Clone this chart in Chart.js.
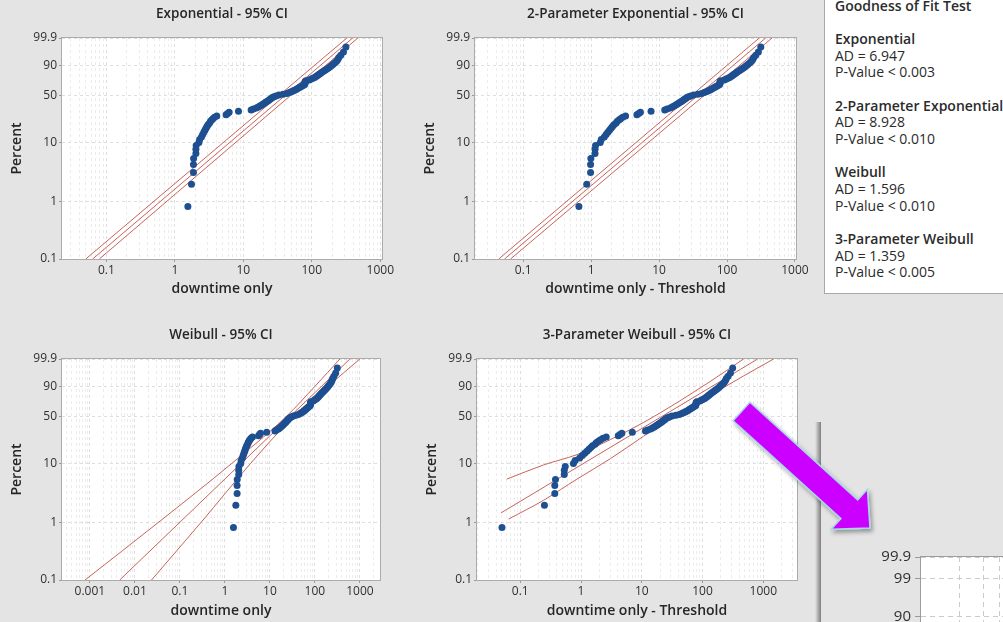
<!DOCTYPE html>
<html><head><meta charset="utf-8">
<script src="https://cdn.jsdelivr.net/npm/chart.js@4.4.1/dist/chart.umd.min.js"></script>
<style>
html,body{margin:0;padding:0;}
body{width:1003px;height:622px;overflow:hidden;position:relative;background:#e4e4e4;font-family:'Open Sans','Noto Sans',sans-serif;}
canvas{position:absolute;}
#gof{position:absolute;left:824px;top:-10px;width:190px;height:304px;background:#fff;border:1px solid #a8a8a8;box-sizing:border-box;}
#gofText{position:absolute;left:10px;top:6.7px;font-size:14px;line-height:16.67px;color:#2b2b2b;white-space:pre;}
#gofText .h{font-weight:600;}
#shadow{position:absolute;left:815px;top:422px;width:6px;height:210px;background:linear-gradient(to right,rgba(0,0,0,0),rgba(0,0,0,0.45));}
#arrow{position:absolute;left:0;top:0;width:1003px;height:622px;pointer-events:none;}
</style></head><body>
<canvas id="c1" width="408" height="300" style="left:0;top:0"></canvas>
<canvas id="c2" width="408" height="300" style="left:413px;top:0"></canvas>
<canvas id="c3" width="408" height="301" style="left:0;top:321px"></canvas>
<canvas id="c4" width="408" height="301" style="left:415px;top:321px"></canvas>
<div id="shadow"></div>
<canvas id="c5" width="500" height="700" style="left:820px;top:422px"></canvas>
<div id="gof"><div id="gofText"></div></div>
<svg id="arrow" viewBox="0 0 1003 622">
<defs><filter id="sh" x="-20%" y="-20%" width="140%" height="140%"><feDropShadow dx="2" dy="3" stdDeviation="2" flood-color="#000" flood-opacity="0.35"/></filter></defs>
<polygon filter="url(#sh)" points="749.9,402.2 857.7,499.9 867.4,489.2 870,528 831.2,529.2 840.9,518.5 733.1,420.8" fill="#cc00ff" stroke="#a6d8e6" stroke-width="1.5" stroke-linejoin="miter"/>
</svg>
<script>
// ---------- data ----------
// plotting-position percent of each ordered observation
const percentRank = [0.81,1.97,3.13,4.28,5.44,6.60,7.75,8.91,10.07,11.23,
 12.38,13.54,14.70,15.86,17.01,18.17,19.33,20.49,21.64,22.80,
 23.96,25.12,26.27,27.43,28.59,29.75,30.90,32.06,33.22,34.38,
 35.53,36.69,37.85,39.00,40.16,41.32,42.48,43.63,44.79,45.95,
 47.11,48.26,49.42,50.58,51.74,52.89,54.05,55.21,56.37,57.52,
 58.68,59.84,61.00,62.15,63.31,64.47,65.63,66.78,67.94,69.10,
 70.25,71.41,72.57,73.73,74.88,76.04,77.20,78.36,79.51,80.67,
 81.83,82.99,84.14,85.30,86.46,87.62,88.77,89.93,91.09,92.25,
 93.40,94.56,95.72,96.88,98.03,99.19];
// downtime only
const downtime = [1.55,1.75,1.87,1.87,1.88,2.03,2.03,2.05,2.25,2.3,
 2.45,2.55,2.65,2.75,2.85,2.95,3.05,3.2,3.3,3.45,
 3.6,3.8,4.1,5.6,5.9,6.2,8.5,13,14,15.5,
 16.5,17.5,18.5,19.5,20.5,21.5,22.5,23.5,24.5,25.5,
 26.5,28,30,33,38,43,47,50,53,56,
 59,62,65,68,71,74,78,79,80,80,
 80,82,92,98,104,110,115,120,125,130,
 136,142,150,158,166,175,185,195,205,218,
 230,240,248,265,290,315];
// downtime only - Threshold (2-parameter exponential)
const downtimeThr2 = [0.66,0.86,0.98,0.98,0.99,1.14,1.14,1.16,1.36,1.41,
 1.56,1.66,1.76,1.86,1.96,2.06,2.16,2.31,2.41,2.56,
 2.71,2.91,3.21,4.71,5.01,5.31,7.61,12.1,13.1,14.6,
 15.6,16.6,17.6,18.6,19.6,20.6,21.6,22.6,23.6,24.6,
 25.6,27.1,29.1,32.1,37.1,42.1,46.1,49.1,52.1,55.1,
 58.1,61.1,64.1,67.1,70.1,73.1,77.1,78.1,79.1,79.1,
 79.1,81.1,91.1,97.1,103.1,109.1,114.1,119.1,124.1,129.1,
 135.1,141.1,149.1,157.1,165.1,174.1,184.1,194.1,204.1,217.1,
 229.1,239.1,247.1,264.1,289.1,314.1];
// downtime only - Threshold (3-parameter Weibull)
const downtimeThr3 = [0.05,0.25,0.37,0.37,0.38,0.53,0.53,0.55,0.75,0.8,
 0.95,1.05,1.15,1.25,1.35,1.45,1.55,1.7,1.8,1.95,
 2.1,2.3,2.6,4.1,4.4,4.7,7,11.5,12.5,14,
 15,16,17,18,19,20,21,22,23,24,
 25,26.5,28.5,31.5,36.5,41.5,45.5,48.5,51.5,54.5,
 57.5,60.5,63.5,66.5,69.5,72.5,76.5,77.5,78.5,78.5,
 78.5,80.5,90.5,96.5,102.5,108.5,113.5,118.5,123.5,128.5,
 134.5,140.5,148.5,156.5,164.5,173.5,183.5,193.5,203.5,216.5,
 228.5,238.5,246.5,263.5,288.5,313.5];

// fitted lines and 95% CI bounds: [x, percent]
const expFit = [[0.063,0.1],[395,99.9]];
const expUpper = [[0.050,0.1],[325,99.9]];
const expLower = [[0.079,0.1],[470,99.9]];
const exp2Fit = [[0.053,0.1],[370,99.9]];
const exp2Upper = [[0.0435,0.1],[298,99.9]];
const exp2Lower = [[0.065,0.1],[460,99.9]];
const wblFit = [[0.0046,0.1],[600,99.9]];
const wblUpper = [[0.00078,0.1],[0.0335,1],[1.41,10],[23.2,50],[99.5,90],[360,99.9]];
const wblLower = [[0.0234,0.1],[0.296,1],[3.7,10],[33.8,50],[193,90],[1000,99.9]];
const wbl3Fit = [[0.048,1.45],[808,99.9]];
const wbl3Upper = [[0.060,5.5],[0.242,9.5],[0.857,14],[3.03,24],[10.7,42],[37.9,70],[134,94],[473,99.9]];
const wbl3Lower = [[0.0645,1.14],[0.242,2.4],[0.857,5.5],[3.03,12],[10.7,27],[37.9,52],[134,80],[473,97],[1480,99.9]];

// tick labels
const yTickPercents = [0.1,1,10,50,90,99.9];
const yTickLabels = ['0.1','1','10','50','90','99.9'];
const zoomYTickPercents = [0.1,1,10,50,90,99,99.9];
const zoomYTickLabels = ['0.1','1','10','50','90','99','99.9'];
const xTicksA = [0.1,1,10,100,1000];
const xLabelsA = ['0.1','1','10','100','1000'];
const xTicksW = [0.001,0.01,0.1,1,10,100,1000];
const xLabelsW = ['0.001','0.01','0.1','1','10','100','1000'];

// goodness of fit
const gofTests = ['Exponential','2-Parameter Exponential','Weibull','3-Parameter Weibull'];
const gofAD = ['6.947','8.928','1.596','1.359'];
const gofP = ['< 0.003','< 0.010','< 0.010','< 0.005'];

// ---------- rendering ----------
const T = p => Math.log(-Math.log(1 - p / 100)); // Weibull probability scale
const toPts = (xs, ps) => xs.map((x, i) => ({x: x, y: T(ps[i])}));
const pairPts = arr => arr.map(a => ({x: a[0], y: T(a[1])}));
const FONT = "'Open Sans','Noto Sans',sans-serif";
const BLUE = '#1d4f91';
const RED = 'rgba(196,92,82,0.95)';

const plotFrame = {
  id: 'plotFrame',
  beforeDraw(chart) {
    const a = chart.chartArea, ctx = chart.ctx;
    ctx.save(); ctx.fillStyle = '#ffffff';
    ctx.fillRect(a.left, a.top, a.right - a.left, a.bottom - a.top);
    ctx.restore();
  },
  afterDraw(chart, args, opts) {
    const a = chart.chartArea, ctx = chart.ctx;
    ctx.save(); ctx.strokeStyle = opts.color || '#aaa'; ctx.lineWidth = 1;
    ctx.strokeRect(Math.round(a.left) - 0.5, Math.round(a.top) - 0.5,
      Math.round(a.right - a.left) + 1, Math.round(a.bottom - a.top) + 1);
    ctx.restore();
  }
};

function labelFor(v, ticks, labels) {
  for (let i = 0; i < ticks.length; i++)
    if (Math.abs(Math.log10(v) - Math.log10(ticks[i])) < 1e-6) return labels[i];
  return '';
}
function isMajor(v, ticks) { return labelFor(v, ticks, ticks.map(() => 'y')) !== ''; }

function pointsSet(xs) {
  return {data: toPts(xs, percentRank), pointRadius: 3.5, pointHoverRadius: 3.5,
    backgroundColor: BLUE, borderColor: BLUE, borderWidth: 0, showLine: false};
}
function lineSet(arr, smooth) {
  return {data: pairPts(arr), showLine: true, pointRadius: 0, borderColor: RED,
    borderWidth: 1, fill: false, cubicInterpolationMode: smooth ? 'monotone' : 'default', tension: 0};
}

function makePlot(id, o) {
  const yFont = o.yFont || 12;
  const minorGrid = o.minorGrid || '#ececec';
  const majorGrid = o.gridColor || '#dedede';
  return new Chart(document.getElementById(id), {
    type: 'scatter',
    data: {datasets: o.datasets},
    plugins: [plotFrame],
    options: {
      responsive: false, animation: false, devicePixelRatio: 1,
      layout: {padding: o.padding},
      plugins: {
        legend: {display: false}, tooltip: {enabled: false},
        title: {display: !!o.title, text: o.title || '', fullSize: false, color: '#262626',
          font: {family: FONT, size: 13.5, weight: 600, lineHeight: 1.2}, padding: {top: 6, bottom: 15.8}},
        plotFrame: {color: o.frameColor || '#ababab'}
      },
      scales: {
        x: {
          type: 'logarithmic', position: 'bottom', min: o.xMin, max: o.xMax, bounds: 'data',
          afterBuildTicks(s) {
            const t = [];
            for (let d = Math.floor(Math.log10(o.xMin)); d <= Math.ceil(Math.log10(o.xMax)); d++)
              for (let m = 1; m <= 9; m++) {
                const v = m * Math.pow(10, d);
                if (v >= o.xMin && v <= o.xMax) t.push({value: v});
              }
            s.ticks = t;
          },
          afterFit(s) { s.height = o.xH; },
          ticks: {autoSkip: false, maxRotation: 0, minRotation: 0, padding: 1, color: '#303030',
            display: o.xLabels !== null,
            font: {family: FONT, size: 12}, callback: v => o.xLabels ? labelFor(v, o.xTicks, o.xLabels) : ''},
          grid: {lineWidth: 1, tickLength: 3,
            color: c => (c.tick && o.xTicks && isMajor(c.tick.value, o.xTicks)) ? majorGrid : minorGrid,
            tickColor: c => (c.tick && o.xTicks && isMajor(c.tick.value, o.xTicks)) ? '#9a9a9a' : 'rgba(0,0,0,0)'},
          border: {display: false, dash: o.dash || [3, 3]},
          title: {display: !!o.xTitle, text: o.xTitle || '', color: '#262626',
            font: {family: FONT, size: 14, weight: 600, lineHeight: 1.2}, padding: {top: 0, bottom: 2.6}}
        },
        y: {
          type: 'linear', min: T(0.1), max: T(99.9), bounds: 'data',
          afterBuildTicks(s) { s.ticks = o.yTicks.map(p => ({value: T(p)})); },
          afterFit(s) { s.width = o.yW; },
          ticks: {autoSkip: false, padding: o.yPad || 2, color: '#303030',
            font: {family: FONT, size: yFont}, callback: (v, i) => o.yLabels[i]},
          grid: {color: majorGrid, lineWidth: 1, tickLength: o.yTickLen || 3, tickColor: '#9a9a9a'},
          border: {display: false, dash: o.dash || [3, 3]},
          title: {display: !!o.yTitle, text: o.yTitle || '', color: '#262626',
            font: {family: FONT, size: 14, weight: 600, lineHeight: 1.2}, padding: {top: 8.6, bottom: 0}}
        }
      }
    }
  });
}

makePlot('c1', {
  title: 'Exponential - 95% CI', xTitle: 'downtime only', yTitle: 'Percent',
  padding: {left: 0, right: 26, top: 0, bottom: 0}, yW: 62, xH: 41,
  xMin: 0.0225, xMax: 1060, xTicks: xTicksA, xLabels: xLabelsA,
  yTicks: yTickPercents, yLabels: yTickLabels,
  datasets: [pointsSet(downtime), lineSet(expFit), lineSet(expUpper), lineSet(expLower)]
});
makePlot('c2', {
  title: '2-Parameter Exponential - 95% CI', xTitle: 'downtime only - Threshold', yTitle: 'Percent',
  padding: {left: 0, right: 25, top: 0, bottom: 0}, yW: 62, xH: 41,
  xMin: 0.0195, xMax: 1035, xTicks: xTicksA, xLabels: xLabelsA,
  yTicks: yTickPercents, yLabels: yTickLabels,
  datasets: [pointsSet(downtimeThr2), lineSet(exp2Fit), lineSet(exp2Upper), lineSet(exp2Lower)]
});
makePlot('c3', {
  title: 'Weibull - 95% CI', xTitle: 'downtime only', yTitle: 'Percent',
  padding: {left: 0, right: 28, top: 0, bottom: 0}, yW: 62, xH: 42,
  xMin: 0.00024, xMax: 2800, xTicks: xTicksW, xLabels: xLabelsW,
  yTicks: yTickPercents, yLabels: yTickLabels,
  datasets: [pointsSet(downtime), lineSet(wblFit), lineSet(wblUpper, true), lineSet(wblLower, true)]
});
makePlot('c4', {
  title: '3-Parameter Weibull - 95% CI', xTitle: 'downtime only - Threshold', yTitle: 'Percent',
  padding: {left: 0, right: 26, top: 0, bottom: 0}, yW: 62, xH: 42,
  xMin: 0.0194, xMax: 3590, xTicks: xTicksA, xLabels: xLabelsA,
  yTicks: yTickPercents, yLabels: yTickLabels,
  datasets: [pointsSet(downtimeThr3), lineSet(wbl3Fit), lineSet(wbl3Upper, true), lineSet(wbl3Lower, true)]
});
// enlarged copy of the 3-parameter Weibull plot (only its top-left corner is in view)
makePlot('c5', {
  padding: {left: 0, right: 10, top: 135, bottom: 0}, yW: 101, xH: 87,
  xMin: 0.0103, xMax: 8.24, xTicks: [], xLabels: null,
  yTicks: zoomYTickPercents, yLabels: zoomYTickLabels, yFont: 15, yPad: 4, yTickLen: 6,
  gridColor: '#cbcbcb', minorGrid: '#cbcbcb', dash: [5, 4], frameColor: '#9c9c9c',
  datasets: [pointsSet(downtimeThr3)]
});

// goodness of fit text
let html = '<span class="h">Goodness of Fit Test</span>\n';
gofTests.forEach((t, i) => {
  html += '\n<span class="h">' + t + '</span>\nAD = ' + gofAD[i] + '\nP-Value ' + gofP[i].replace('<', '&lt;') + '\n';
});
document.getElementById('gofText').innerHTML = html;
</script>
</body></html>
